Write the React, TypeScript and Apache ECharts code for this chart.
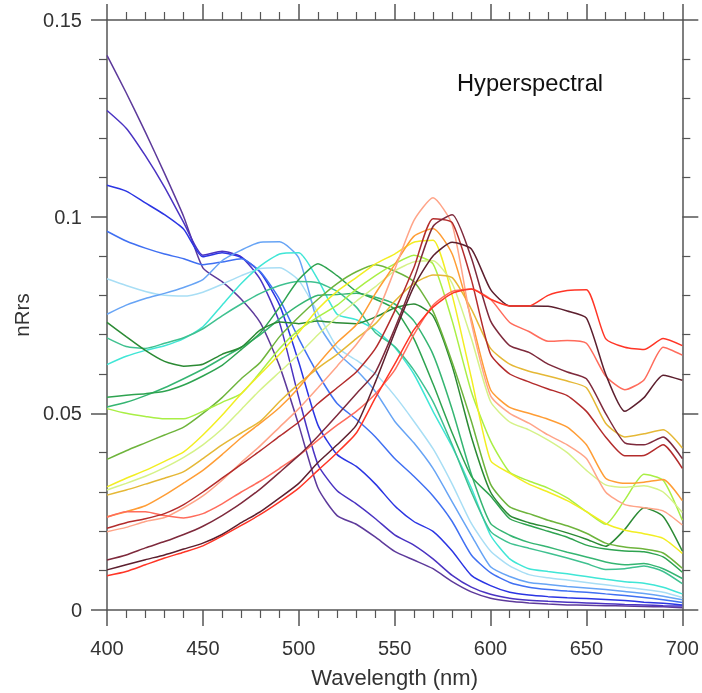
import React, { useEffect, useRef } from "react";
import * as echarts from "echarts";

const wavelengths = [400, 410, 420, 430, 440, 450, 460, 470, 480, 490, 500, 510, 520, 530, 540, 550, 560, 570, 580, 590, 600, 610, 620, 630, 640, 650, 660, 670, 680, 690, 700];

const xTickLabels = ["400", "450", "500", "550", "600", "650", "700"];
const yTickLabels = ["0", "0.05", "0.1", "0.15"];

const s01 = [0.141, 0.1315, 0.1215, 0.111, 0.1, 0.087, 0.0835, 0.079, 0.073, 0.062, 0.047, 0.031, 0.024, 0.0218, 0.0185, 0.0149, 0.0127, 0.0105, 0.0072, 0.0046, 0.003, 0.0022, 0.0018, 0.0015, 0.0013, 0.0012, 0.0011, 0.001, 0.0009, 0.0008, 0.0006];
const s02 = [0.127, 0.1225, 0.1155, 0.1075, 0.0985, 0.0902, 0.0912, 0.0898, 0.084, 0.073, 0.054, 0.037, 0.0303, 0.027, 0.0232, 0.0191, 0.0165, 0.013, 0.0088, 0.0058, 0.004, 0.003, 0.0025, 0.0022, 0.002, 0.0018, 0.0016, 0.0014, 0.0013, 0.0011, 0.001];
const s03 = [0.108, 0.1065, 0.1035, 0.1005, 0.0968, 0.0898, 0.0908, 0.0896, 0.0858, 0.0775, 0.063, 0.047, 0.0395, 0.0365, 0.032, 0.0265, 0.0225, 0.02, 0.015, 0.0088, 0.0062, 0.0045, 0.0038, 0.0034, 0.0031, 0.0029, 0.0027, 0.0024, 0.002, 0.0017, 0.0013];
const s04 = [0.0963, 0.0938, 0.092, 0.0905, 0.0893, 0.0878, 0.0885, 0.0893, 0.086, 0.079, 0.069, 0.06, 0.0525, 0.0485, 0.044, 0.0385, 0.034, 0.029, 0.0225, 0.014, 0.0095, 0.007, 0.0058, 0.0052, 0.0048, 0.0045, 0.0041, 0.0037, 0.0032, 0.0026, 0.0019];
const s05 = [0.0842, 0.0825, 0.081, 0.08, 0.0798, 0.0808, 0.0828, 0.085, 0.0868, 0.087, 0.0838, 0.0755, 0.0668, 0.0635, 0.06, 0.0545, 0.048, 0.041, 0.032, 0.022, 0.015, 0.0112, 0.009, 0.0082, 0.0076, 0.007, 0.0064, 0.0058, 0.0052, 0.0045, 0.0032];
const s06 = [0.0752, 0.0775, 0.0792, 0.0805, 0.082, 0.084, 0.0888, 0.0915, 0.0935, 0.0936, 0.0895, 0.073, 0.0655, 0.061, 0.0555, 0.048, 0.0425, 0.036, 0.0275, 0.019, 0.011, 0.0085, 0.007, 0.0065, 0.006, 0.0056, 0.0052, 0.0047, 0.0042, 0.0035, 0.0026];
const s07 = [0.0624, 0.0645, 0.066, 0.0672, 0.069, 0.072, 0.0775, 0.083, 0.0875, 0.0905, 0.0908, 0.084, 0.0752, 0.0738, 0.0712, 0.0668, 0.06, 0.0505, 0.0415, 0.031, 0.019, 0.013, 0.0105, 0.0098, 0.0092, 0.0085, 0.0078, 0.0072, 0.0068, 0.0058, 0.0041];
const s08 = [0.0692, 0.067, 0.0665, 0.0678, 0.0692, 0.0715, 0.0748, 0.0778, 0.0805, 0.0825, 0.0835, 0.0832, 0.081, 0.077, 0.0705, 0.067, 0.061, 0.053, 0.042, 0.03, 0.02, 0.017, 0.0157, 0.0145, 0.0132, 0.0118, 0.0103, 0.0105, 0.0112, 0.0098, 0.0067];
const s09 = [0.0516, 0.0528, 0.0545, 0.0565, 0.0588, 0.0612, 0.064, 0.0668, 0.07, 0.074, 0.0775, 0.08, 0.0802, 0.0805, 0.0795, 0.0778, 0.0735, 0.065, 0.051, 0.0345, 0.022, 0.019, 0.0172, 0.016, 0.0147, 0.0135, 0.0122, 0.0115, 0.0118, 0.0105, 0.008];
const s10 = [0.0541, 0.0546, 0.055, 0.0556, 0.0572, 0.0595, 0.0622, 0.0662, 0.0705, 0.077, 0.084, 0.088, 0.085, 0.081, 0.079, 0.0765, 0.069, 0.0575, 0.045, 0.034, 0.029, 0.0232, 0.0215, 0.02, 0.0185, 0.0165, 0.0155, 0.015, 0.0148, 0.0135, 0.0096];
const s11 = [0.0731, 0.0695, 0.066, 0.0632, 0.062, 0.0625, 0.065, 0.0668, 0.0712, 0.0732, 0.0728, 0.0735, 0.073, 0.0728, 0.0745, 0.0768, 0.0778, 0.0748, 0.062, 0.044, 0.03, 0.024, 0.0222, 0.021, 0.0196, 0.018, 0.0162, 0.0205, 0.026, 0.0238, 0.015];
const s12 = [0.0383, 0.0405, 0.0425, 0.0445, 0.0465, 0.05, 0.054, 0.0588, 0.063, 0.0695, 0.0745, 0.079, 0.083, 0.086, 0.0878, 0.0862, 0.0835, 0.076, 0.063, 0.048, 0.032, 0.0262, 0.0245, 0.0228, 0.0214, 0.0195, 0.017, 0.016, 0.0155, 0.0145, 0.0106];
const s13 = [0.0512, 0.05, 0.0492, 0.0486, 0.0486, 0.0505, 0.0528, 0.055, 0.0605, 0.0665, 0.0712, 0.0745, 0.0775, 0.0815, 0.085, 0.088, 0.0902, 0.088, 0.0735, 0.0555, 0.043, 0.035, 0.0328, 0.031, 0.0285, 0.025, 0.0218, 0.028, 0.0345, 0.033, 0.0228];
const s14 = [0.0313, 0.0335, 0.0355, 0.0378, 0.0402, 0.0445, 0.0495, 0.055, 0.06, 0.065, 0.0706, 0.0765, 0.081, 0.0845, 0.088, 0.0905, 0.0935, 0.094, 0.08, 0.059, 0.038, 0.0348, 0.032, 0.03, 0.0278, 0.025, 0.022, 0.0203, 0.0194, 0.0182, 0.0144];
const s15 = [0.0305, 0.0322, 0.034, 0.0362, 0.0388, 0.042, 0.046, 0.051, 0.056, 0.0605, 0.065, 0.07, 0.0745, 0.0785, 0.0822, 0.0862, 0.0885, 0.0888, 0.083, 0.069, 0.053, 0.0478, 0.0458, 0.0432, 0.04, 0.0355, 0.0318, 0.0312, 0.0316, 0.03, 0.0248];
const s16 = [0.0292, 0.0305, 0.032, 0.0335, 0.0352, 0.0385, 0.042, 0.045, 0.048, 0.053, 0.0575, 0.0615, 0.065, 0.069, 0.0728, 0.0785, 0.083, 0.0852, 0.0845, 0.0765, 0.0665, 0.0625, 0.0607, 0.0595, 0.0582, 0.0565, 0.0475, 0.044, 0.0448, 0.0458, 0.0412];
const s17 = [0.0237, 0.025, 0.0265, 0.0292, 0.0323, 0.0355, 0.0395, 0.0438, 0.0475, 0.0515, 0.0565, 0.0625, 0.068, 0.0725, 0.0805, 0.0878, 0.095, 0.097, 0.0905, 0.074, 0.056, 0.0515, 0.05, 0.0485, 0.0465, 0.042, 0.0335, 0.0322, 0.0325, 0.0332, 0.0278];
const s18 = [0.0199, 0.021, 0.0225, 0.0235, 0.026, 0.029, 0.033, 0.0375, 0.0418, 0.0465, 0.0512, 0.0565, 0.062, 0.0675, 0.0745, 0.0865, 0.099, 0.1048, 0.098, 0.073, 0.0545, 0.05, 0.0475, 0.0445, 0.042, 0.0385, 0.03, 0.0268, 0.026, 0.0252, 0.0216];
const s19 = [0.0236, 0.025, 0.025, 0.024, 0.0234, 0.0245, 0.027, 0.03, 0.0328, 0.036, 0.0393, 0.0432, 0.047, 0.0505, 0.055, 0.061, 0.07, 0.0775, 0.081, 0.0816, 0.079, 0.0731, 0.0708, 0.0683, 0.0685, 0.0678, 0.0595, 0.056, 0.0585, 0.0668, 0.0648];
const s20 = [0.0208, 0.0222, 0.0232, 0.0245, 0.0268, 0.03, 0.0335, 0.037, 0.0405, 0.0442, 0.0478, 0.0525, 0.0565, 0.0605, 0.0665, 0.076, 0.087, 0.0995, 0.0985, 0.084, 0.065, 0.06, 0.058, 0.0562, 0.0545, 0.0505, 0.044, 0.0392, 0.0393, 0.042, 0.036];
const s21 = [0.0127, 0.014, 0.0158, 0.0174, 0.0192, 0.0213, 0.024, 0.0272, 0.0308, 0.035, 0.0393, 0.0442, 0.0495, 0.055, 0.0605, 0.0715, 0.084, 0.0975, 0.1005, 0.0895, 0.0735, 0.0672, 0.0655, 0.0625, 0.0605, 0.0588, 0.05, 0.0425, 0.042, 0.044, 0.0385];
const s22 = [0.0102, 0.0115, 0.0128, 0.014, 0.0155, 0.017, 0.0192, 0.0222, 0.025, 0.0285, 0.0322, 0.0375, 0.042, 0.047, 0.058, 0.0705, 0.0822, 0.09, 0.0935, 0.0918, 0.0815, 0.0773, 0.0773, 0.0772, 0.076, 0.0742, 0.06, 0.0505, 0.054, 0.0597, 0.0584];
const s23 = [0.0087, 0.0098, 0.0115, 0.0132, 0.0147, 0.0163, 0.0188, 0.0215, 0.0243, 0.0275, 0.031, 0.0355, 0.04, 0.045, 0.054, 0.0625, 0.0712, 0.077, 0.0805, 0.0816, 0.079, 0.0773, 0.0773, 0.08, 0.0812, 0.0814, 0.069, 0.0668, 0.0662, 0.069, 0.0672];

const spectra = [s01, s02, s03, s04, s05, s06, s07, s08, s09, s10, s11, s12, s13, s14, s15, s16, s17, s18, s19, s20, s21, s22, s23];
const spectrumColors = [
  "#5d3a9b", "#4a33c2", "#2b35e3", "#4070f2", "#a8def5", "#67a4f5", "#40e6d6", "#3fc190",
  "#35b572", "#2ea350", "#2b8a34", "#6eb43c", "#a9ef45", "#f2ee22", "#d5f288", "#e5b836",
  "#ff9d35", "#ffa488", "#ff6c5c", "#b32c2c", "#7e2a3c", "#5c1f2e", "#ff3526",
];

const FONT = "'Liberation Sans', Arial, Helvetica, sans-serif";
const AXIS_COLOR = "#555";

export default function App() {
  const ref = useRef<HTMLDivElement>(null);
  useEffect(() => {
    document.body.style.margin = "0";
    document.body.style.overflow = "hidden";
    document.documentElement.style.overflow = "hidden";
    const chart = echarts.init(ref.current as HTMLDivElement, null, { renderer: "svg" });

    const tickStyle = {
      axisLine: { show: true, onZero: false, lineStyle: { color: AXIS_COLOR, width: 1.5 } },
      axisTick: { show: true, inside: false, length: 16, lineStyle: { color: AXIS_COLOR, width: 1.5 } },
      minorTick: { show: true, splitNumber: 5, length: 8, lineStyle: { color: AXIS_COLOR, width: 1.2 } },
      splitLine: { show: false },
      minorSplitLine: { show: false },
    };

    const xBase = { type: "value", min: 400, max: 700, interval: 50, ...tickStyle };
    const yBase = { type: "value", min: 0, max: 0.15, interval: 0.05, ...tickStyle };

    chart.setOption({
      animation: false,
      grid: { left: 107, right: 15, top: 20, bottom: 81, containLabel: false },
      xAxis: [
        {
          ...xBase,
          position: "bottom",
          axisLabel: {
            fontSize: 20,
            color: "#333",
            fontFamily: FONT,
            margin: 28,
            formatter: (v: number) => xTickLabels[Math.round((v - 400) / 50)] ?? "",
          },
          name: "Wavelength (nm)",
          nameLocation: "middle",
          nameGap: 56,
          nameTextStyle: { fontSize: 22, color: "#333", fontFamily: FONT },
        },
        { ...xBase, position: "top", axisLabel: { show: false } },
      ],
      yAxis: [
        {
          ...yBase,
          position: "left",
          axisLabel: {
            fontSize: 20,
            color: "#333",
            fontFamily: FONT,
            margin: 25,
            formatter: (v: number) => yTickLabels[Math.round(v / 0.05)] ?? "",
          },
          name: "nRrs",
          nameLocation: "middle",
          nameGap: 57,
          nameRotate: 90,
          nameTextStyle: { fontSize: 20.5, color: "#333", fontFamily: FONT },
        },
        { ...yBase, position: "right", axisLabel: { show: false } },
      ],
      graphic: [
        {
          type: "text",
          left: 457,
          top: 71,
          style: { text: "Hyperspectral", fontSize: 23.7, fill: "#111", fontFamily: FONT },
        },
      ],
      series: spectra.map((vals, i) => ({
        type: "line",
        name: "spectrum " + (i + 1),
        xAxisIndex: 0,
        yAxisIndex: 0,
        showSymbol: false,
        symbol: "none",
        smooth: 0.2,
        lineStyle: { width: 1.5, color: spectrumColors[i] },
        itemStyle: { color: spectrumColors[i] },
        data: wavelengths.map((w, j) => [w, vals[j]]),
      })),
    });

    return () => chart.dispose();
  }, []);

  return (
    <div
      ref={ref}
      style={{ position: "fixed", left: 0, top: 0, width: 702, height: 693, overflow: "hidden" }}
    />
  );
}
